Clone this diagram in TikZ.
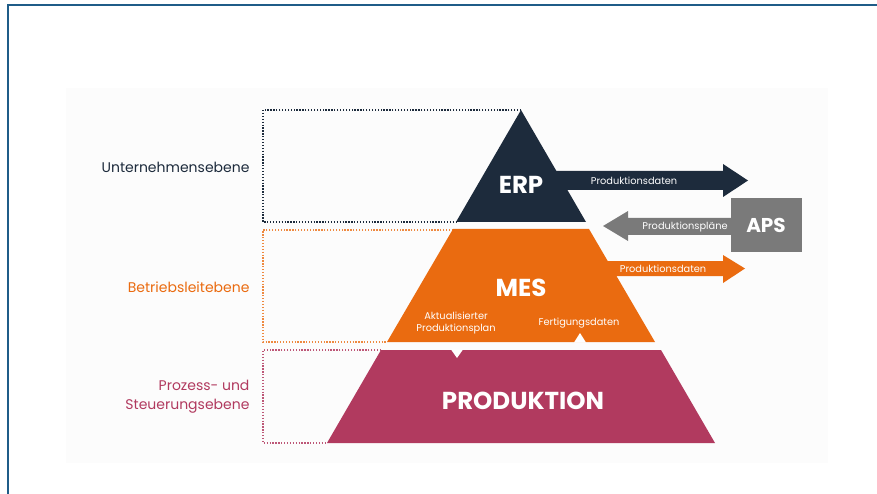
\documentclass[tikz,border=0pt]{standalone}
\usepackage{fontspec}
\setmainfont{Poppins}
\definecolor{navy}{HTML}{1D2B3C}
\definecolor{orng}{HTML}{EA6B10}
\definecolor{mgnt}{HTML}{B13A5F}
\definecolor{apsgray}{HTML}{7A7A7A}
\definecolor{frame}{HTML}{1F5C88}
\definecolor{bgpanel}{HTML}{FCFCFC}
\tikzset{
  lvl/.style={dash pattern=on 1.3pt off 1.6pt, line width=1.4pt},
  lbl/.style={anchor=east, font=\fontsize{14}{19}\selectfont, align=right},
  big/.style={text=white, font=\bfseries\fontsize{24.5}{28}\selectfont},
  small/.style={text=white, font=\fontsize{9.8}{11.5}\selectfont, align=center, inner sep=0pt},
}
\begin{document}
\begin{tikzpicture}[x=1pt,y=-1pt]
\useasboundingbox (0,0) rectangle (877,494);
\fill[white] (0,0) rectangle (877,494);
% frame
\draw[frame, line width=1.3pt] (8,494) -- (8,5) -- (877,5);
% panel
\fill[bgpanel] (66,88) rectangle (828,463);
% level outlines
\draw[lvl, navy] (521,110) -- (263,110) -- (263,222) -- (456,222);
\draw[lvl, orng!80] (453,230) -- (263,230) -- (263,342) -- (387,342);
\draw[lvl, mgnt!85] (381,350) -- (263,350) -- (263,443) -- (327,443);
% pyramid
\fill[navy] (521,110) -- (586,222) -- (456,222) -- cycle;
\fill[orng] (453,229) -- (589,229) -- (655,342) -- (387,342) -- cycle;
\fill[mgnt] (381,350) -- (661,350) -- (715,443) -- (327,443) -- cycle;
% notches
\fill[white] (574,342.5) -- (580,333) -- (586,342.5) -- cycle;
\fill[white] (451,349.5) -- (457,358) -- (463,349.5) -- cycle;
% arrows
\fill[navy] (545,171) -- (723,171) -- (723,164) -- (748,180.5) -- (723,197) -- (723,190) -- (545,190) -- cycle;
\fill[apsgray] (731,218) -- (628,218) -- (628,211) -- (603,226) -- (628,241) -- (628,235) -- (731,235) -- cycle;
\fill[orng] (600,261) -- (723,261) -- (723,255) -- (745,268.5) -- (723,283) -- (723,276) -- (600,276) -- cycle;
\fill[apsgray] (731,198) rectangle (802,252);
% texts
\node[big] (erp) at (521,185) {ERP};
\node[big] (mes) at (521,288) {MES};
\node[big] (prod) at (523,401) {PRODUKTION};
\node[text=white, font=\bfseries\fontsize{20}{23}\selectfont] (aps) at (766,225) {APS};
\node[small] (t1) at (634,181) {Produktionsdaten};
\node[small] (t2) at (685,227) {Produktionspläne};
\node[small] (t3) at (663,269) {Produktionsdaten};
\node[small] (t4) at (456,323) {Aktualisierter\\Produktionsplan};
\node[small] (t5) at (579,323) {Fertigungsdaten};
\node[lbl, text=navy] (l1) at (253,167) {Unternehmensebene};
\node[lbl, text=orng] (l2) at (253,287) {Betriebsleitebene};
\node[lbl, text=mgnt] (l3) at (253,397) {Prozess- und\\Steuerungsebene};
\end{tikzpicture}
\end{document}
